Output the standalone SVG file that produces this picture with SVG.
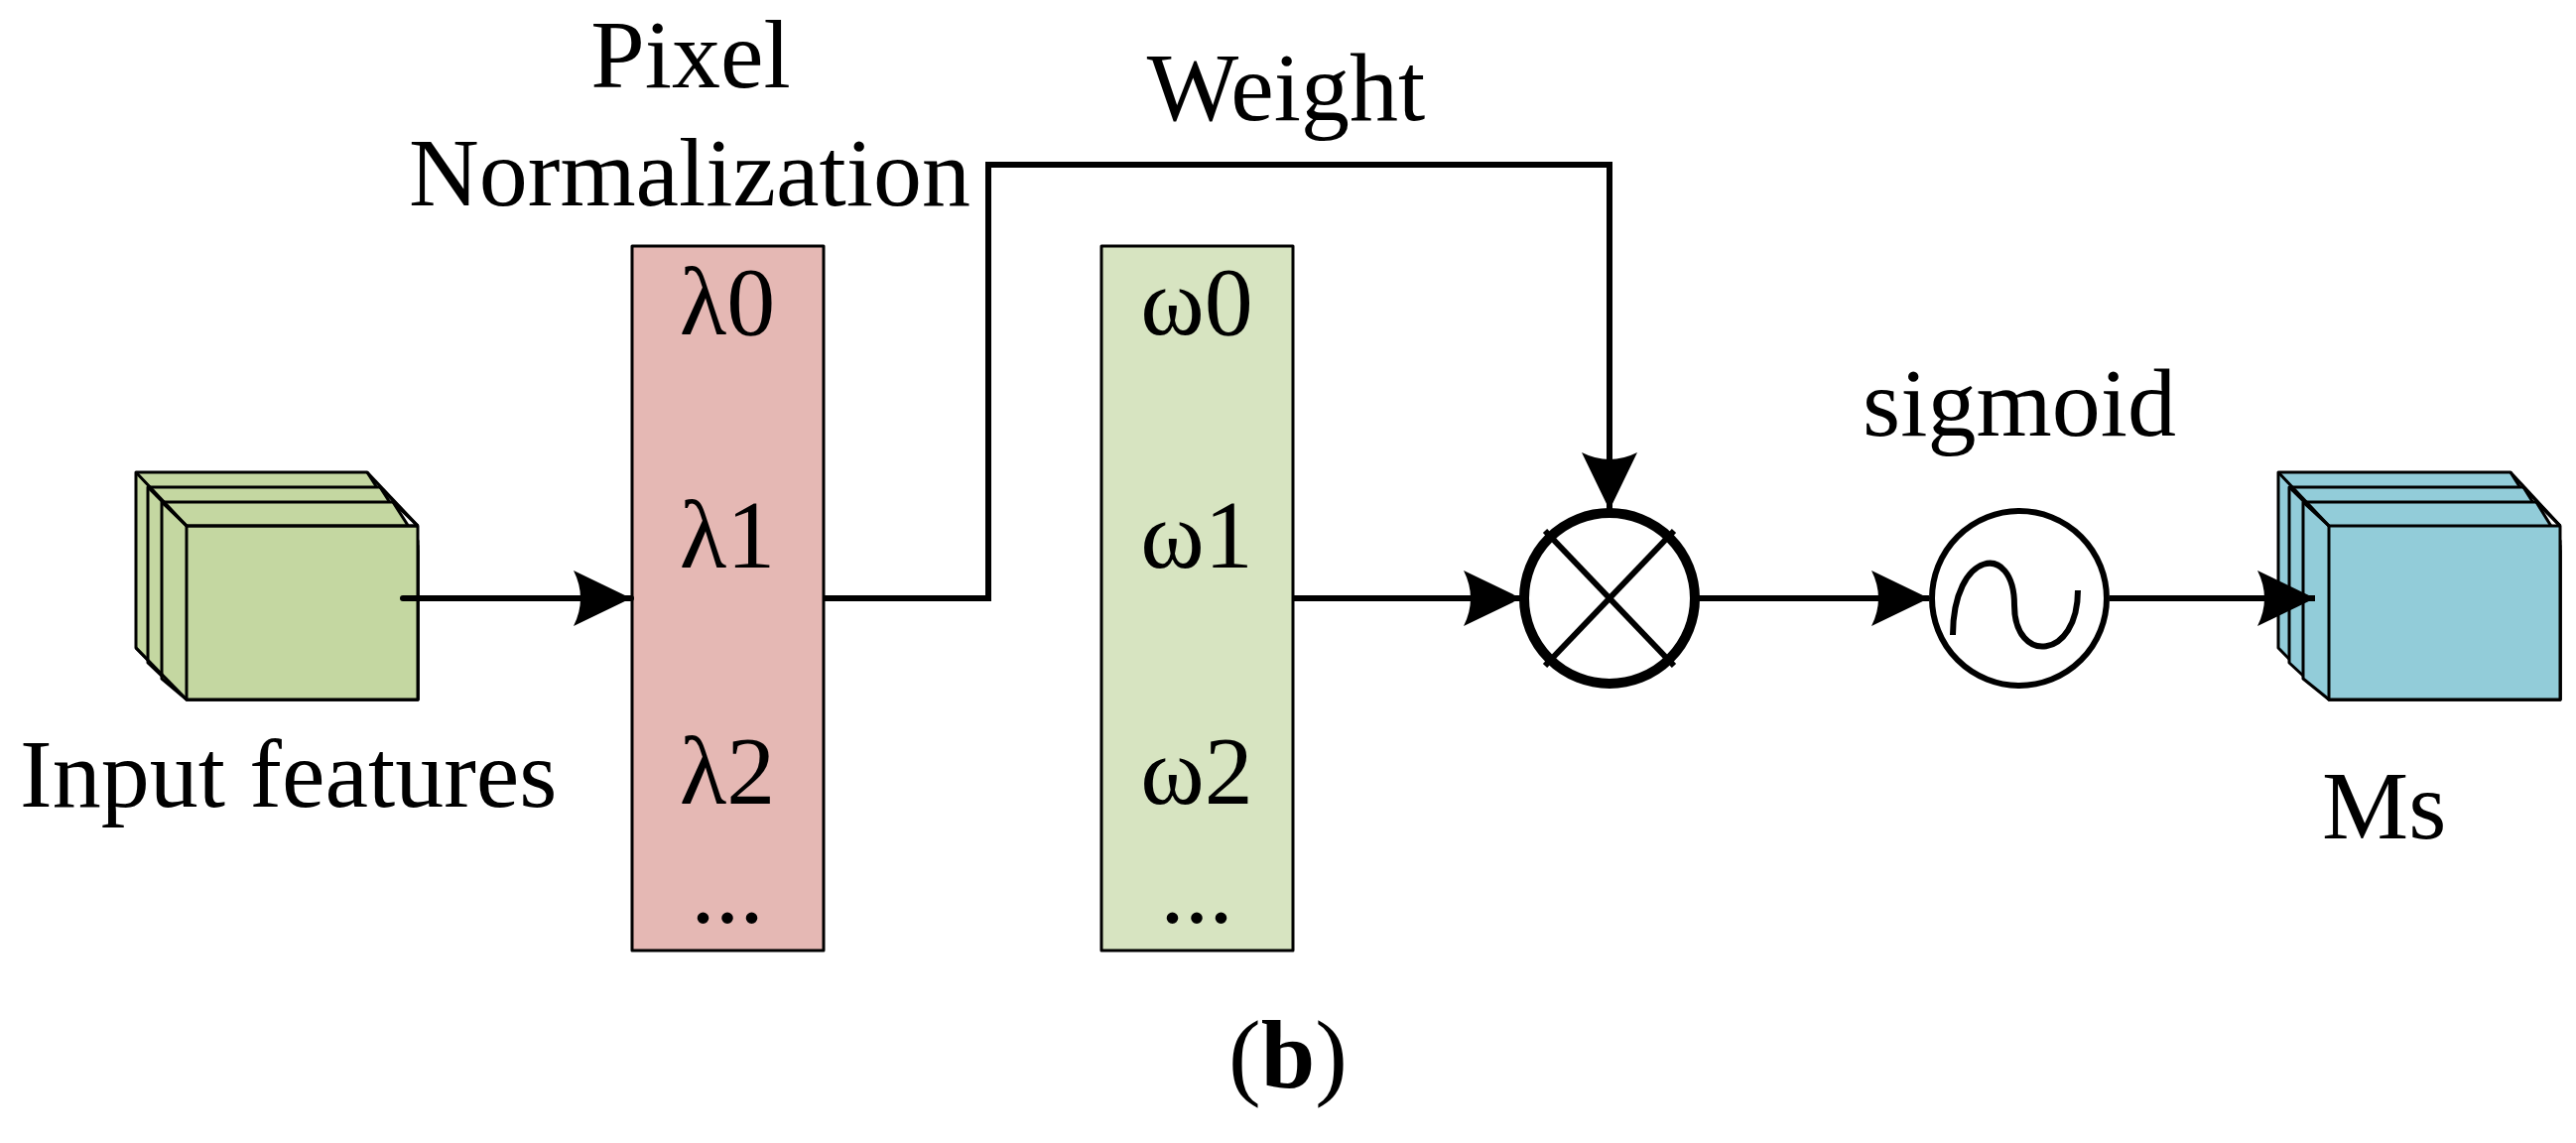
<svg xmlns="http://www.w3.org/2000/svg" width="2596" height="1152" viewBox="0 0 2596 1152">
<defs>
<style>
text{font-family:"Liberation Serif","Times New Roman",serif;font-size:98px;fill:#000}
.m{text-anchor:middle}
.c{stroke:#000;stroke-width:3;stroke-linejoin:round}
.ln{stroke:#000;stroke-width:6;fill:none}
</style>
<marker id="ah" viewBox="0 0 60 60" refX="58" refY="30" markerWidth="60" markerHeight="60" markerUnits="userSpaceOnUse" orient="auto">
<path d="M0,2 Q14,30 0,58 L58,30 Z" fill="#000"/>
</marker>
</defs>
<rect width="2596" height="1152" fill="#fff"/>
<g id="input">
<g fill="#c4d7a1" class="c">
<polygon points="137,476 370,476 421,555 421,705 188,705 137,653"/>
<polygon points="149,491 383,491 421,550 421,705 188,705 149,668"/>
<polygon points="163,506 396,506 421,545 421,705 188,705 163,684"/>
<polygon points="188,530 421,530 421,705 188,705"/>
<polyline points="137,476 188,530 421,530" fill="none"/>
<line x1="149" y1="491" x2="188" y2="530"/>
<line x1="163" y1="506" x2="188" y2="530"/>
<line x1="370" y1="476" x2="421" y2="530"/>
<line x1="383" y1="491" x2="421" y2="530"/>
<line x1="396" y1="506" x2="421" y2="530"/>
<line x1="137" y1="653" x2="188" y2="705"/>
</g>
<text x="20" y="813">Input features</text>
</g>
<g id="pixelnorm">
<rect x="637" y="248" width="193" height="710" fill="#e5b8b4" class="c"/>
<text class="m" x="733" y="337">λ0</text>
<text class="m" x="733" y="572">λ1</text>
<text class="m" x="733" y="810">λ2</text>
<text class="m" x="733" y="930">...</text>
<text class="m" x="696" y="88">Pixel</text>
<text class="m" x="695" y="207">Normalization</text>
</g>
<g id="weight">
<rect x="1110" y="248" width="193" height="710" fill="#d7e4c1" class="c"/>
<text class="m" x="1206" y="337">ω0</text>
<text class="m" x="1206" y="572">ω1</text>
<text class="m" x="1206" y="810">ω2</text>
<text class="m" x="1206" y="930">...</text>
<text class="m" x="1296" y="121">Weight</text>
</g>
<g id="multiply">
<circle cx="1622" cy="603" r="86" fill="#fff" stroke="#000" stroke-width="10"/>
<line x1="1557" y1="535" x2="1687" y2="671" class="ln" stroke-width="8"/>
<line x1="1687" y1="535" x2="1557" y2="671" class="ln" stroke-width="8"/>
</g>
<g id="sigmoid">
<circle cx="2035" cy="603" r="88" fill="#fff" stroke="#000" stroke-width="6"/>
<path d="M1968,640 C1968,555 2030,545 2030,610 C2030,670 2094,665 2094,595" class="ln" stroke-width="11"/>
<text class="m" x="2035" y="439">sigmoid</text>
</g>
<g id="ms">
<g fill="#92ccd9" class="c">
<polygon points="2296,476 2530,476 2580,555 2580,705 2347,705 2296,653"/>
<polygon points="2307,491 2543,491 2580,550 2580,705 2347,705 2307,668"/>
<polygon points="2321,506 2556,506 2580,545 2580,705 2347,705 2321,684"/>
<polygon points="2347,530 2580,530 2580,705 2347,705"/>
<line x1="2296" y1="476" x2="2347" y2="530"/>
<line x1="2307" y1="491" x2="2347" y2="530"/>
<line x1="2321" y1="506" x2="2347" y2="530"/>
<line x1="2530" y1="476" x2="2580" y2="530"/>
<line x1="2543" y1="491" x2="2580" y2="530"/>
<line x1="2556" y1="506" x2="2580" y2="530"/>
</g>
<text x="2340" y="845">Ms</text>
</g>
<g id="connectors" class="ln">
<line x1="406" y1="603" x2="636" y2="603" marker-end="url(#ah)" stroke-linecap="round"/>
<polyline points="830,603 996,603 996,166 1622,166 1622,514" marker-end="url(#ah)"/>
<line x1="1303" y1="603" x2="1533" y2="603" marker-end="url(#ah)"/>
<line x1="1712" y1="603" x2="1944" y2="603" marker-end="url(#ah)"/>
<line x1="2126" y1="603" x2="2333" y2="603" marker-end="url(#ah)"/>
</g>
<text class="m" x="1298" y="1096">(<tspan font-weight="bold">b</tspan>)</text>
</svg>
